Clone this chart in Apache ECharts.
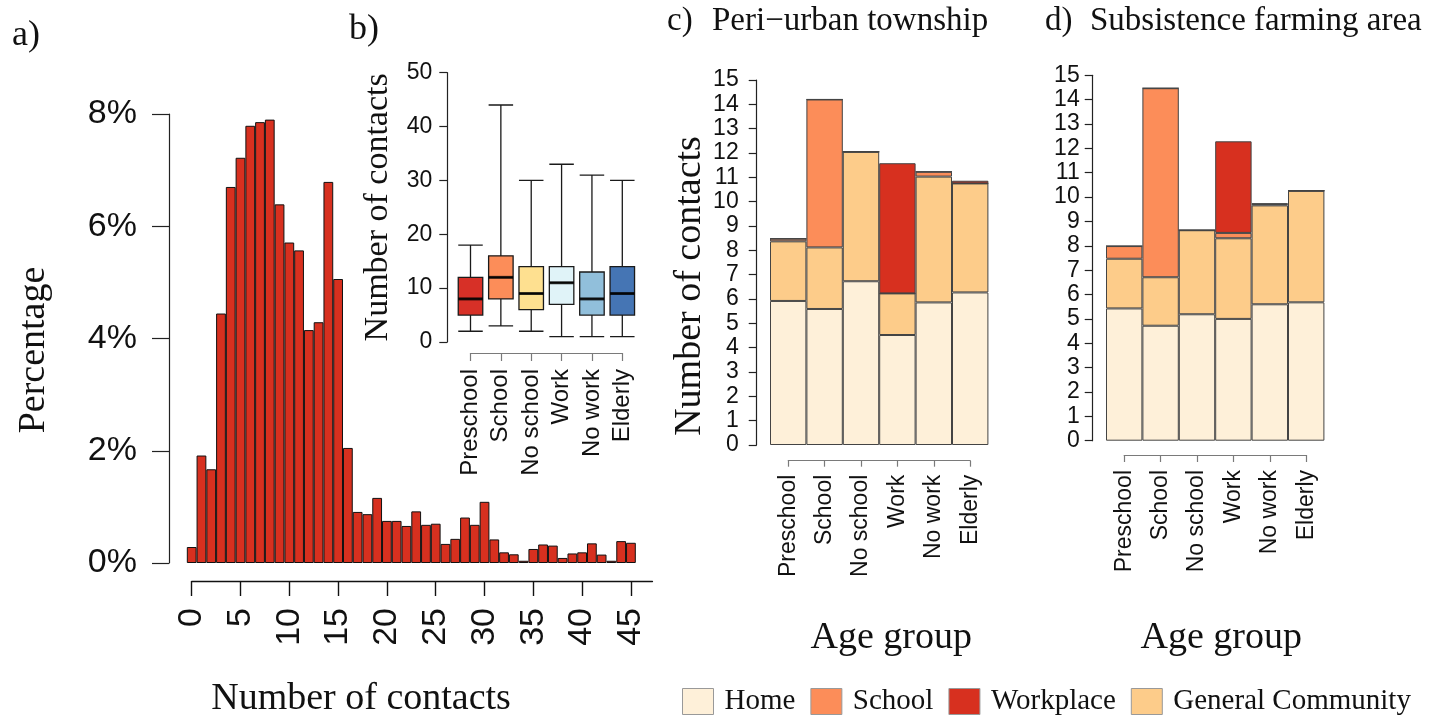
<!DOCTYPE html>
<html>
<head>
<meta charset="utf-8">
<script src="https://cdn.jsdelivr.net/npm/echarts@6/dist/echarts.min.js"></script>
<style>
  html, body { margin: 0; padding: 0; background: #fff; }
  #chart { width: 1446px; height: 717px; }
</style>
</head>
<body>
<div id="chart"></div>
<script>
// ---------- data ----------
const groups = ['Preschool', 'School', 'No school', 'Work', 'No work', 'Elderly'];

// panel a: histogram of number of contacts (percentage of participants)
const contactBins = [0, 1, 2, 3, 4, 5, 6, 7, 8, 9, 10, 11, 12, 13, 14, 15, 16, 17, 18, 19, 20, 21, 22,
  23, 24, 25, 26, 27, 28, 29, 30, 31, 32, 33, 34, 35, 36, 37, 38, 39, 40, 41, 42, 43, 44, 45];
const contactPct = [0.285, 1.915, 1.67, 4.445, 6.70, 7.22, 7.79, 7.855, 7.90, 6.39, 5.71, 5.57, 4.15,
  4.29, 6.79, 5.06, 2.05, 0.91, 0.87, 1.16, 0.75, 0.75, 0.66, 0.92, 0.68, 0.70, 0.34, 0.43, 0.81,
  0.68, 1.09, 0.42, 0.19, 0.155, 0.04, 0.25, 0.33, 0.31, 0.09, 0.17, 0.19, 0.35, 0.15, 0.04, 0.39, 0.36];

// panel b: boxplot statistics per age group
const boxWhiskerLow  = [2, 3, 2, 1, 1, 1];
const boxQ1          = [5, 8, 6, 7, 5, 5];
const boxMedian      = [8, 12, 9, 11, 8, 9];
const boxQ3          = [12, 16, 14, 14, 13, 14];
const boxWhiskerHigh = [18, 44, 30, 33, 31, 30];
const boxColors = ['#D73027', '#FC8D59', '#FEE090', '#E0F3F8', '#91BFDB', '#4575B4'];

// panel c: peri-urban township, mean contacts by setting
const periHome      = [5.92, 5.59, 6.73, 4.52, 5.86, 6.27];
const periCommunity = [2.45, 2.53, 5.32, 1.71, 5.17, 4.48];
const periSchool    = [0.11, 6.08, 0, 0, 0.20, 0];
const periWork      = [0, 0, 0, 5.35, 0, 0.11];

// panel d: subsistence farming area
const farmHome      = [5.43, 4.72, 5.19, 5.00, 5.60, 5.68];
const farmCommunity = [2.04, 1.99, 3.45, 3.31, 4.06, 4.58];
const farmSchool    = [0.52, 7.76, 0, 0.22, 0.05, 0];
const farmWork      = [0, 0, 0, 3.76, 0.03, 0];

const settingNames = ['Home', 'School', 'Workplace', 'General Community'];
const settingColors = { 'Home': '#FEF0D9', 'General Community': '#FDCC8A', 'School': '#FC8D59', 'Workplace': '#D7301F' };

// ---------- styling helpers ----------
const sans = "'Liberation Sans', Arial, Helvetica, sans-serif";
const serif = "'Liberation Serif', 'Times New Roman', serif";

function catAxis(gridIndex, offset, tickLen, margin, fontSize, name, nameGap, namePad) {
  return {
    type: 'category', gridIndex: gridIndex, data: groups, boundaryGap: false, offset: offset,
    axisLine: { show: true, onZero: false, lineStyle: { color: '#7a7a7a', width: 1.2 } },
    axisTick: { show: true, length: tickLen, alignWithLabel: true, lineStyle: { color: '#7a7a7a', width: 1.2 } },
    axisLabel: { rotate: 90, margin: margin, fontFamily: sans, fontSize: fontSize, color: '#111', interval: 0 },
    splitLine: { show: false },
    name: name, nameLocation: 'middle', nameGap: nameGap,
    nameTextStyle: { fontFamily: serif, fontSize: 38, color: '#111', padding: namePad }
  };
}
function valAxis(gridIndex, min, max, interval, offset, tickLen, margin, fontSize, name, nameGap, namePad, nameSize, formatter) {
  return {
    type: 'value', gridIndex: gridIndex, min: min, max: max, interval: interval, offset: offset,
    axisLine: { show: true, onZero: false, lineStyle: { color: '#222', width: 1.2 } },
    axisTick: { show: true, length: tickLen, lineStyle: { color: '#222', width: 1.2 } },
    axisLabel: { margin: margin, fontFamily: sans, fontSize: fontSize, color: '#111', formatter: formatter || '{value}' },
    splitLine: { show: false },
    name: name, nameLocation: 'middle', nameGap: nameGap,
    nameTextStyle: { fontFamily: serif, fontSize: nameSize, color: '#111', padding: namePad }
  };
}

function stackSeries(name, values, stack, axisIdx) {
  return {
    type: 'bar', name: name, stack: stack, xAxisIndex: axisIdx, yAxisIndex: axisIdx,
    data: values, barWidth: 36.4, clip: false,
    itemStyle: { color: settingColors[name], borderColor: '#444', borderWidth: 1 }
  };
}

const option = {
  animation: false,
  backgroundColor: '#fff',
  graphic: [
    { type: 'text', left: 12, top: 18, style: { text: 'a)', font: '36px ' + serif, fill: '#111' } },
    { type: 'text', left: 349, top: 12, style: { text: 'b)', font: '36px ' + serif, fill: '#111' } },
    { type: 'text', left: 667, top: 5, style: { text: 'c)', font: '33px ' + serif, fill: '#111' } },
    { type: 'text', left: 712, top: 5, style: { text: 'Peri\u2212urban township', font: '33px ' + serif, fill: '#111' } },
    { type: 'text', left: 1045, top: 5, style: { text: 'd)', font: '33px ' + serif, fill: '#111' } },
    { type: 'text', left: 1090, top: 5, style: { text: 'Subsistence farming area', font: '33px ' + serif, fill: '#111' } }
  ],
  legend: {
    data: settingNames, left: 682, top: 687, orient: 'horizontal', padding: 0,
    itemWidth: 31, itemHeight: 26, itemGap: 15, icon: 'rect', selectedMode: false,
    itemStyle: { borderColor: '#999', borderWidth: 1 },
    textStyle: { fontFamily: serif, fontSize: 29, color: '#111', padding: [0, 0, 0, 6] }
  },
  grid: [
    { left: 191.7, top: 114, width: 460.7, height: 449, containLabel: false, outerBoundsMode: 'none' },
    { left: 470.5, top: 72.7, width: 151.8, height: 269.3, containLabel: false, outerBoundsMode: 'none' },
    { left: 788.2, top: 80, width: 182, height: 365, containLabel: false, outerBoundsMode: 'none' },
    { left: 1124.2, top: 75.3, width: 182, height: 365.4, containLabel: false, outerBoundsMode: 'none' }
  ],
  xAxis: [
    {
      type: 'value', gridIndex: 0, min: 0, max: 47.2, interval: 5, offset: 18,
      axisLine: { show: true, onZero: false, lineStyle: { color: '#111', width: 1.4 } },
      axisTick: { show: true, length: 15, lineStyle: { color: '#111', width: 1.4 } },
      axisLabel: { rotate: 90, margin: 27, fontFamily: sans, fontSize: 34, color: '#111', showMaxLabel: false },
      splitLine: { show: false },
      name: 'Number of contacts', nameLocation: 'middle', nameGap: 99,
      nameTextStyle: { fontFamily: serif, fontSize: 38, color: '#111', padding: [0, 122, 0, 0] }
    },
    catAxis(1, 11, 8, 16, 24, '', 0, 0),
    catAxis(2, 15.7, 6, 14, 23, 'Age group', 158, [0, 0, 0, 24]),
    catAxis(3, 14.3, 7, 15, 23, 'Age group', 164, [0, 0, 0, 12])
  ],
  yAxis: [
    valAxis(0, 0, 8, 2, 22.7, 17, 32, 34, 'Percentage', 116, [0, 23, 0, 0], 38, '{value}%'),
    valAxis(1, 0, 50, 10, 23.2, 8, 15, 23, 'Number of contacts', 52, 0, 34),
    valAxis(2, 0, 15, 1, 31.5, 8, 18, 23, 'Number of contacts', 46, [0, 47, 0, 0], 38),
    valAxis(3, 0, 15, 1, 31.5, 8, 13, 23, '', 0, 0, 38)
  ],
  series: [
    {
      type: 'bar', xAxisIndex: 0, yAxisIndex: 0, barWidth: 9.77, clip: false,
      data: contactBins.map((b, i) => [b, contactPct[i]]),
      itemStyle: { color: '#D7301F', borderColor: '#111', borderWidth: 1 }
    },
    {
      type: 'boxplot', xAxisIndex: 1, yAxisIndex: 1, boxWidth: [24.5, 24.5],
      data: groups.map((g, i) => ({
        value: [boxWhiskerLow[i], boxQ1[i], boxMedian[i], boxQ3[i], boxWhiskerHigh[i]],
        itemStyle: { color: boxColors[i], borderColor: '#1a1a1a', borderWidth: 1.3 }
      }))
    },
    {
      type: 'scatter', xAxisIndex: 1, yAxisIndex: 1, data: boxMedian, symbol: 'rect',
      symbolSize: [24.5, 3], itemStyle: { color: '#000' }, z: 5, silent: true
    },
    stackSeries('Home', periHome, 'peri', 2),
    stackSeries('General Community', periCommunity, 'peri', 2),
    stackSeries('School', periSchool, 'peri', 2),
    stackSeries('Workplace', periWork, 'peri', 2),
    stackSeries('Home', farmHome, 'farm', 3),
    stackSeries('General Community', farmCommunity, 'farm', 3),
    stackSeries('School', farmSchool, 'farm', 3),
    stackSeries('Workplace', farmWork, 'farm', 3)
  ]
};

const chart = echarts.init(document.getElementById('chart'), null, { renderer: 'canvas' });
chart.setOption(option);
</script>
</body>
</html>
